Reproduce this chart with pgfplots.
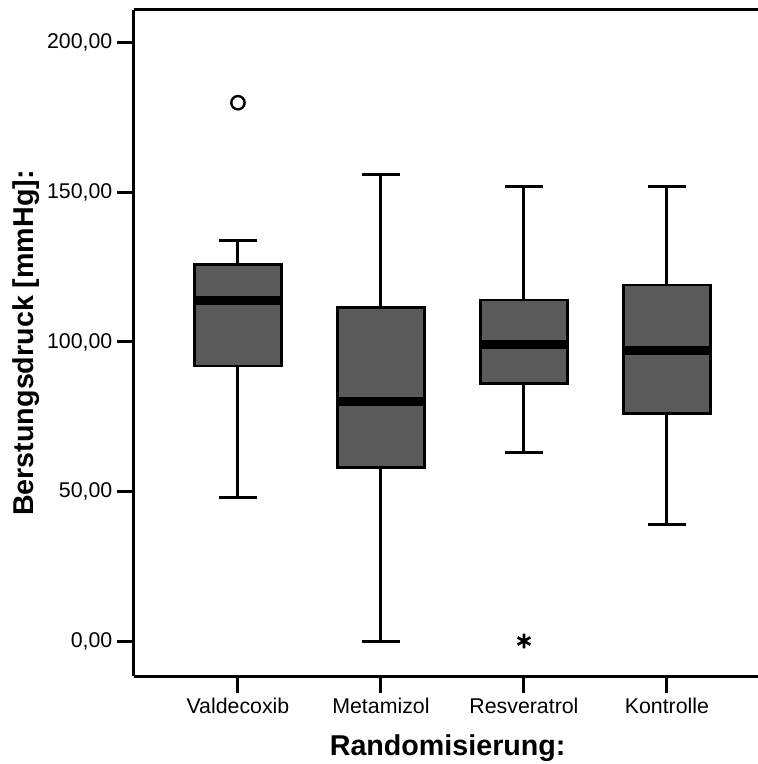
\documentclass[border=0pt]{standalone}
\usepackage{fontspec}
\setmainfont{Liberation Sans}
\usepackage{pgfplots}
\pgfplotsset{compat=1.18}
\definecolor{boxgray}{RGB}{90,90,90}
\begin{document}
\begin{tikzpicture}
\begin{axis}[
  scale only axis, width=470.5pt, height=499.5pt,
  xmin=0.273, xmax=4.660, ymin=-11.7, ymax=211,
  axis x line*=box, axis y line*=left,
  axis line style={line width=2.25pt},
  xtick={1,2,3,4}, xticklabels={Valdecoxib,Metamizol,Resveratrol,Kontrolle},
  ytick={0,50,100,150,200},
  tick pos=left,
  tick align=outside, major tick length=12.75pt,
  tick style={line width=2.25pt, black},
  yticklabel style={/pgf/number format/fixed, /pgf/number format/fixed zerofill, /pgf/number format/precision=2, /pgf/number format/use comma, /pgf/number format/1000 sep={}, /pgf/number format/assume math mode=true},
  tick label style={font=\fontsize{16}{19}\selectfont},
  xlabel={Randomisierung:},
  ylabel={Berstungsdruck [mmHg]:},
  every axis x label/.style={at={(axis description cs:0.5,-0.108)}, anchor=center, font=\bfseries\fontsize{21.5}{25}\selectfont},
  every axis y label/.style={at={(axis description cs:-0.172,0.5)}, anchor=center, rotate=90, font=\bfseries\fontsize{21.5}{25}\selectfont},
]
% whisker stems
\addplot[black, line width=2.25pt] coordinates {(1,48) (1,134)};
\addplot[black, line width=2.25pt] coordinates {(2,0) (2,156)};
\addplot[black, line width=2.25pt] coordinates {(3,63) (3,152)};
\addplot[black, line width=2.25pt] coordinates {(4,39) (4,152)};
% whisker caps
\addplot[only marks, mark=-, mark size=14.25pt, mark options={line width=2.25pt, black}] coordinates {(1,48) (1,134) (2,0) (2,156) (3,63) (3,152) (4,39) (4,152)};
% boxes (lower quartile to upper quartile)
\addplot[draw=black, fill=boxgray, line width=2pt, line join=miter] coordinates {(0.695,92) (1.305,92) (1.305,126) (0.695,126) (0.695,92) (1.305,92)};
\addplot[draw=black, fill=boxgray, line width=2pt, line join=miter] coordinates {(1.695,58) (2.305,58) (2.305,111.5) (1.695,111.5) (1.695,58) (2.305,58)};
\addplot[draw=black, fill=boxgray, line width=2pt, line join=miter] coordinates {(2.695,86) (3.305,86) (3.305,114) (2.695,114) (2.695,86) (3.305,86)};
\addplot[draw=black, fill=boxgray, line width=2pt, line join=miter] coordinates {(3.695,76) (4.305,76) (4.305,119) (3.695,119) (3.695,76) (4.305,76)};
% medians
\addplot[only marks, mark=-, mark size=32.6pt, mark options={line width=6.75pt, black}] coordinates {(1,114) (2,80) (3,99) (4,97)};
% outliers
\addplot[only marks, mark=o, mark size=5pt, mark options={line width=1.8pt, black}] coordinates {(1,180)};
\addplot[only marks, mark=asterisk, mark size=5.5pt, mark options={line width=2pt, black}] coordinates {(3,0)};
\coordinate (BL) at (rel axis cs:0,0);
\coordinate (TR) at (rel axis cs:1,1);
\end{axis}
\pgfresetboundingbox
\path ([xshift=-100.5pt,yshift=-66pt]BL) rectangle ([xshift=-2.5pt,yshift=7.5pt]TR);
\end{tikzpicture}
\end{document}
